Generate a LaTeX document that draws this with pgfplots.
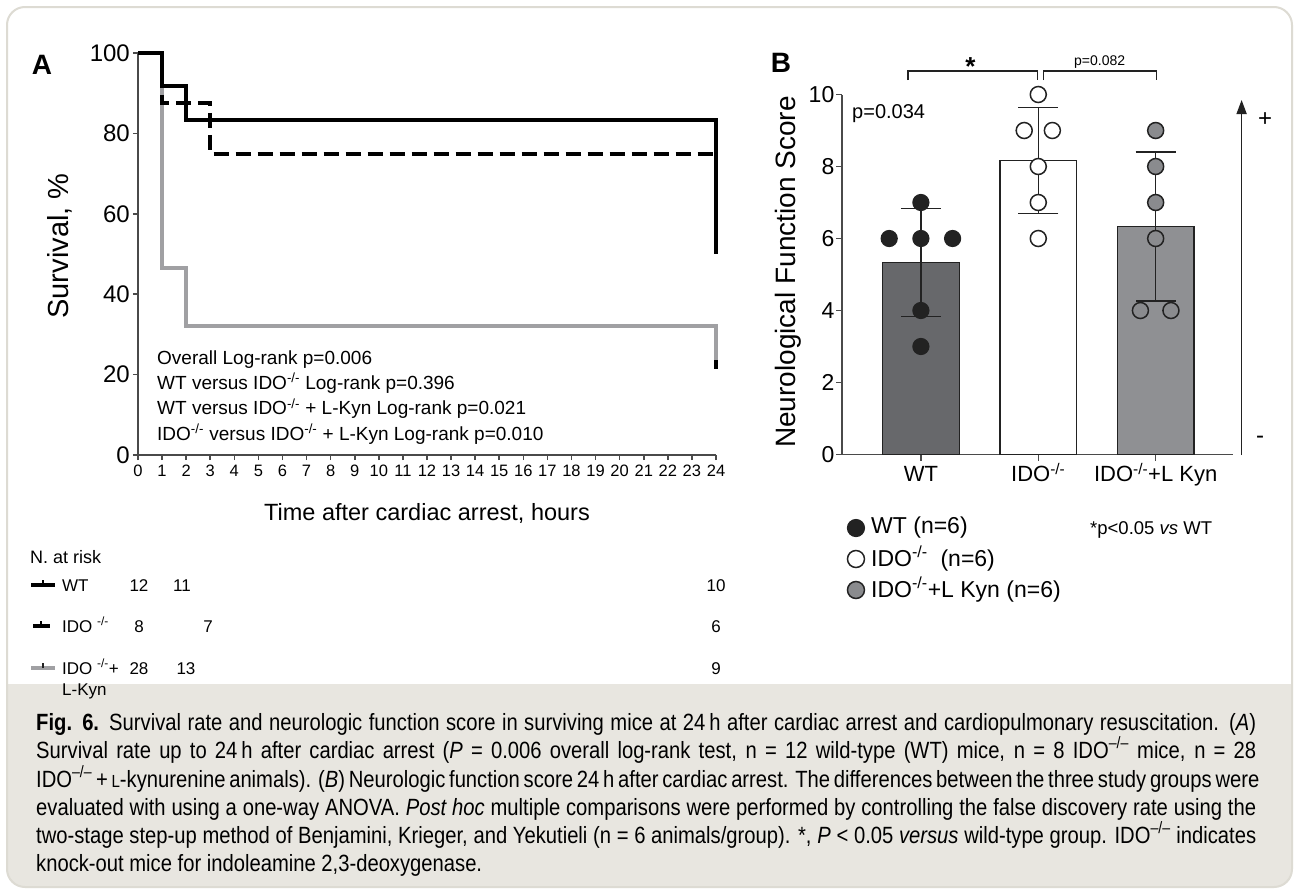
\documentclass[border=0pt]{standalone}
\usepackage{fontspec}
\setmainfont{Liberation Sans}
\newfontfamily\capfont{Liberation Sans}[FakeStretch=0.86]
\usepackage{pgfplots}
\pgfplotsset{compat=1.18}
\usetikzlibrary{arrows.meta}

\definecolor{framecol}{HTML}{DDDBD3}
\definecolor{capbg}{HTML}{E8E6E0}
\definecolor{kmgray}{HTML}{A0A0A3}
\definecolor{axgray}{HTML}{4A4A4A}
\definecolor{wtbar}{HTML}{67686B}
\definecolor{kynbar}{HTML}{8F9093}
\definecolor{kynpt}{HTML}{8A8B8E}
\definecolor{dark}{HTML}{222222}

\newcommand{\fs}[1]{\fontsize{#1}{#1}\selectfont}
\newcommand{\sm}{\textsuperscript{-/-}}
\newcommand{\cm}{\textsuperscript{–/–}}

\begin{document}
\begin{tikzpicture}[x=1pt,y=1pt]
\useasboundingbox (0,0) rectangle (1294,-889);
\fill[white] (0,0) rectangle (1294,-889);
\fill[capbg, rounded corners=16pt] (7,-684) rectangle (1292,-887);
\fill[capbg] (7,-684) rectangle (1292,-730);
\draw[framecol, line width=2pt, rounded corners=18pt] (7,-7) rectangle (1292,-887);

% ---------------- Panel A ----------------
\begin{axis}[
  at={(138pt,-455pt)}, anchor=south west, scale only axis,
  width=578pt, height=402pt,
  xmin=0, xmax=24, ymin=0, ymax=100,
  axis x line*=bottom, axis y line*=left,
  axis line style={axgray, line width=2.2pt},
  tick align=outside, major tick length=5pt,
  tick style={axgray, line width=1.6pt},
  xtick={0,1,...,24}, ytick={0,20,...,100},
  /pgf/number format/assume math mode=true,
  xticklabel style={font=\fs{16.5}, text height=12pt, text depth=0pt, anchor=north, inner sep=0pt, yshift=-4pt},
  yticklabel style={font=\fs{24}, inner sep=3pt},
  clip=false,
]
\addplot[kmgray, line width=4pt] coordinates {(0,100)(1,100)(1,46.43)(2,46.43)(2,32.14)(24,32.14)(24,21.43)};
\addplot[black, line width=4pt, dash pattern=on 15pt off 7pt] coordinates {(0,100)(1,100)(1,87.5)(3,87.5)(3,75)(24,75)};
\addplot[black, line width=4pt] coordinates {(0,100)(1,100)(1,91.67)(2,91.67)(2,83.33)(24,83.33)(24,50)};
\addplot[black, line width=4pt] coordinates {(24,21.43)(24,23.6)};
\end{axis}

% ---------------- Panel B ----------------
\begin{axis}[
  at={(842pt,-454.5pt)}, anchor=south west, scale only axis,
  width=390.8pt, height=360pt,
  xmin=-0.672, xmax=2.657, ymin=0, ymax=10,
  axis x line*=bottom, axis y line*=left,
  axis line style={axgray, line width=1.6pt},
  tick align=outside, major tick length=6pt,
  tick style={axgray, line width=1.5pt},
  xtick={0,1,2}, xticklabels={WT, IDO\sm, IDO\sm+L Kyn},
  ytick={0,2,...,10},
  /pgf/number format/assume math mode=true,
  xticklabel style={font=\fs{22}, text height=16pt, text depth=5pt, anchor=north, inner sep=0pt, yshift=-5pt},
  yticklabel style={font=\fs{23}, inner sep=1.5pt},
  clip=false,
]
\addplot[ybar, bar width=76.8pt, bar shift=0pt, fill=wtbar, draw=dark, line width=1.5pt] coordinates {(0,5.333)};
\addplot[ybar, bar width=76.8pt, bar shift=0pt, fill=white, draw=dark, line width=1.5pt] coordinates {(1,8.167)};
\addplot[ybar, bar width=76.8pt, bar shift=0pt, fill=kynbar, draw=dark, line width=1.5pt] coordinates {(2,6.333)};
\addplot[draw=none, mark=none,
  error bars/.cd, y dir=both, y explicit,
  error bar style={draw=dark, line width=1.5pt, solid},
  error mark options={rotate=90, draw=dark, line width=1.5pt, mark size=20pt}]
  coordinates {(0,5.333) +- (0,1.506) (1,8.167) +- (0,1.472) (2,6.333) +- (0,2.066)};
\addplot[only marks, mark=*, mark size=8pt, mark options={fill=dark, draw=dark, line width=1.2pt}]
  coordinates {(0,7) (-0.27,6) (0,6) (0.27,6) (0,4) (0,3)};
\addplot[only marks, mark=*, mark size=8pt, mark options={fill=white, draw=dark, line width=1.5pt}]
  coordinates {(1,10) (0.88,9) (1.12,9) (1,8) (1,7) (1,6)};
\addplot[only marks, mark=*, mark size=8pt, mark options={fill=kynpt, draw=dark, line width=1.5pt}]
  coordinates {(2,9) (2,8) (2,7) (2,6) (1.87,4) (2.13,4)};
% legend markers
\addplot[only marks, mark=*, mark size=8.5pt, mark options={fill=dark, draw=dark, line width=1.2pt}]
  coordinates {(-0.553,-2.042)};
\addplot[only marks, mark=*, mark size=8.5pt, mark options={fill=white, draw=dark, line width=1.5pt}]
  coordinates {(-0.553,-2.903)};
\addplot[only marks, mark=*, mark size=8.5pt, mark options={fill=kynpt, draw=dark, line width=1.5pt}]
  coordinates {(-0.553,-3.764)};
\end{axis}

\begin{scope}[every node/.style={inner sep=0pt}]
% Panel A texts
\node[anchor=base, font=\bfseries\fs{28}] at (42,-74) {A};
\node[rotate=90, font=\fs{29}] at (60,-246) {Survival, \%};
\node[anchor=base, font=\fs{23.5}] at (427,-520) {Time after cardiac arrest, hours};
\node[anchor=base west, font=\fs{19}] at (157,-364) {Overall Log-rank p=0.006};
\node[anchor=base west, font=\fs{19}] at (157,-389) {WT versus IDO\sm{} Log-rank p=0.396};
\node[anchor=base west, font=\fs{19}] at (157,-414.5) {WT versus IDO\sm{} + L-Kyn Log-rank p=0.021};
\node[anchor=base west, font=\fs{19}] at (157,-440) {IDO\sm{} versus IDO\sm{} + L-Kyn Log-rank p=0.010};
% N at risk
\node[anchor=base west, font=\fs{18}] at (30,-563.5) {N. at risk};
\draw[black, line width=4.5pt] (31,-585) -- (55,-585);
\draw[black, line width=1.5pt] (43,-585) -- (43,-580);
\draw[black, line width=4.5pt] (33,-626) -- (50,-626);
\draw[black, line width=1.5pt] (41,-626) -- (41,-621);
\draw[kmgray, line width=4.5pt] (31,-668) -- (55,-668);
\draw[dark, line width=1.5pt] (43,-668) -- (43,-663);
\node[anchor=base west, font=\fs{17}] at (62,-591) {WT};
\node[anchor=base west, font=\fs{17}] at (62,-632) {IDO \sm};
\node[anchor=base west, font=\fs{17}] at (62,-674) {IDO \sm+};
\node[anchor=base west, font=\fs{17}] at (62,-695.5) {L-Kyn};
\foreach \x/\y/\t in {139/591/12, 182/591/11, 716/591/10, 139/632/8, 208/632/7, 716/632/6, 139/674/28, 186/674/13, 716/674/9}
  \node[anchor=base, font=\fs{17}] at (\x,-\y) {\t};

% Panel B texts
\node[anchor=base, font=\bfseries\fs{28}] at (781,-72) {B};
\node[rotate=90, font=\fs{28}] at (788,-272) {Neurological Function Score};
\node[anchor=base west, font=\fs{20}] at (852,-118) {p=0.034};
\draw[dark, line width=1.5pt] (908,-80) -- (908,-71) -- (1037.4,-71) -- (1037.4,-80);
\draw[dark, line width=1.5pt] (1043.4,-80) -- (1043.4,-71) -- (1156.5,-71) -- (1156.5,-80);
\node[anchor=base, font=\bfseries\fs{26}] at (970.5,-75) {*};
\node[anchor=base, font=\fs{14}] at (1099.7,-65) {p=0.082};
\draw[dark, line width=1.6pt, -{Triangle[length=14pt, width=10pt]}] (1241.6,-455) -- (1241.6,-100);
\node[anchor=base, font=\fs{24}] at (1265,-126) {+};
\node[anchor=base, font=\fs{24}] at (1260,-443.5) {-};
\node[anchor=west, font=\fs{23}] at (871,-528) {WT (n=6)};
\node[anchor=west, font=\fs{23}] at (871,-559) {IDO\sm{}\ \ (n=6)};
\node[anchor=west, font=\fs{23}] at (871,-590) {IDO\sm+L Kyn (n=6)};
\node[anchor=base west, font=\fs{18.5}] at (1090,-534) {*p<0.05 \textit{vs} WT};

% Caption
\begin{scope}[every node/.style={inner sep=0pt, anchor=base west, font=\capfont\fs{23.5}}]
\node at (36,-730) {\makebox[1220pt][s]{\textbf{Fig. 6.} Survival rate and neurologic function score in surviving mice at 24\,h after cardiac arrest and cardiopulmonary resuscitation. (\textit{A})}};
\node at (36,-758) {\makebox[1220pt][s]{Survival rate up to 24\,h after cardiac arrest (\textit{P} = 0.006 overall log-rank test, n = 12 wild-type (WT) mice, n = 8 IDO\cm{} mice, n = 28}};
\node at (36,-787) {\makebox[1220pt][s]{IDO\cm{} + {\fs{17.5}L}-kynurenine animals). (\textit{B}) Neurologic function score 24\,h after cardiac arrest. The differences between the three study groups were}};
\node at (36,-815) {\makebox[1220pt][s]{evaluated with using a one-way ANOVA. \textit{Post hoc} multiple comparisons were performed by controlling the false discovery rate using the}};
\node at (36,-843) {\makebox[1220pt][s]{two-stage step-up method of Benjamini, Krieger, and Yekutieli (n = 6 animals/group). *, \textit{P} < 0.05 \textit{versus} wild-type group. IDO\cm{} indicates}};
\node at (36,-871) {knock-out mice for indoleamine 2,3-deoxygenase.};
\end{scope}
\end{scope}
\end{tikzpicture}
\end{document}
